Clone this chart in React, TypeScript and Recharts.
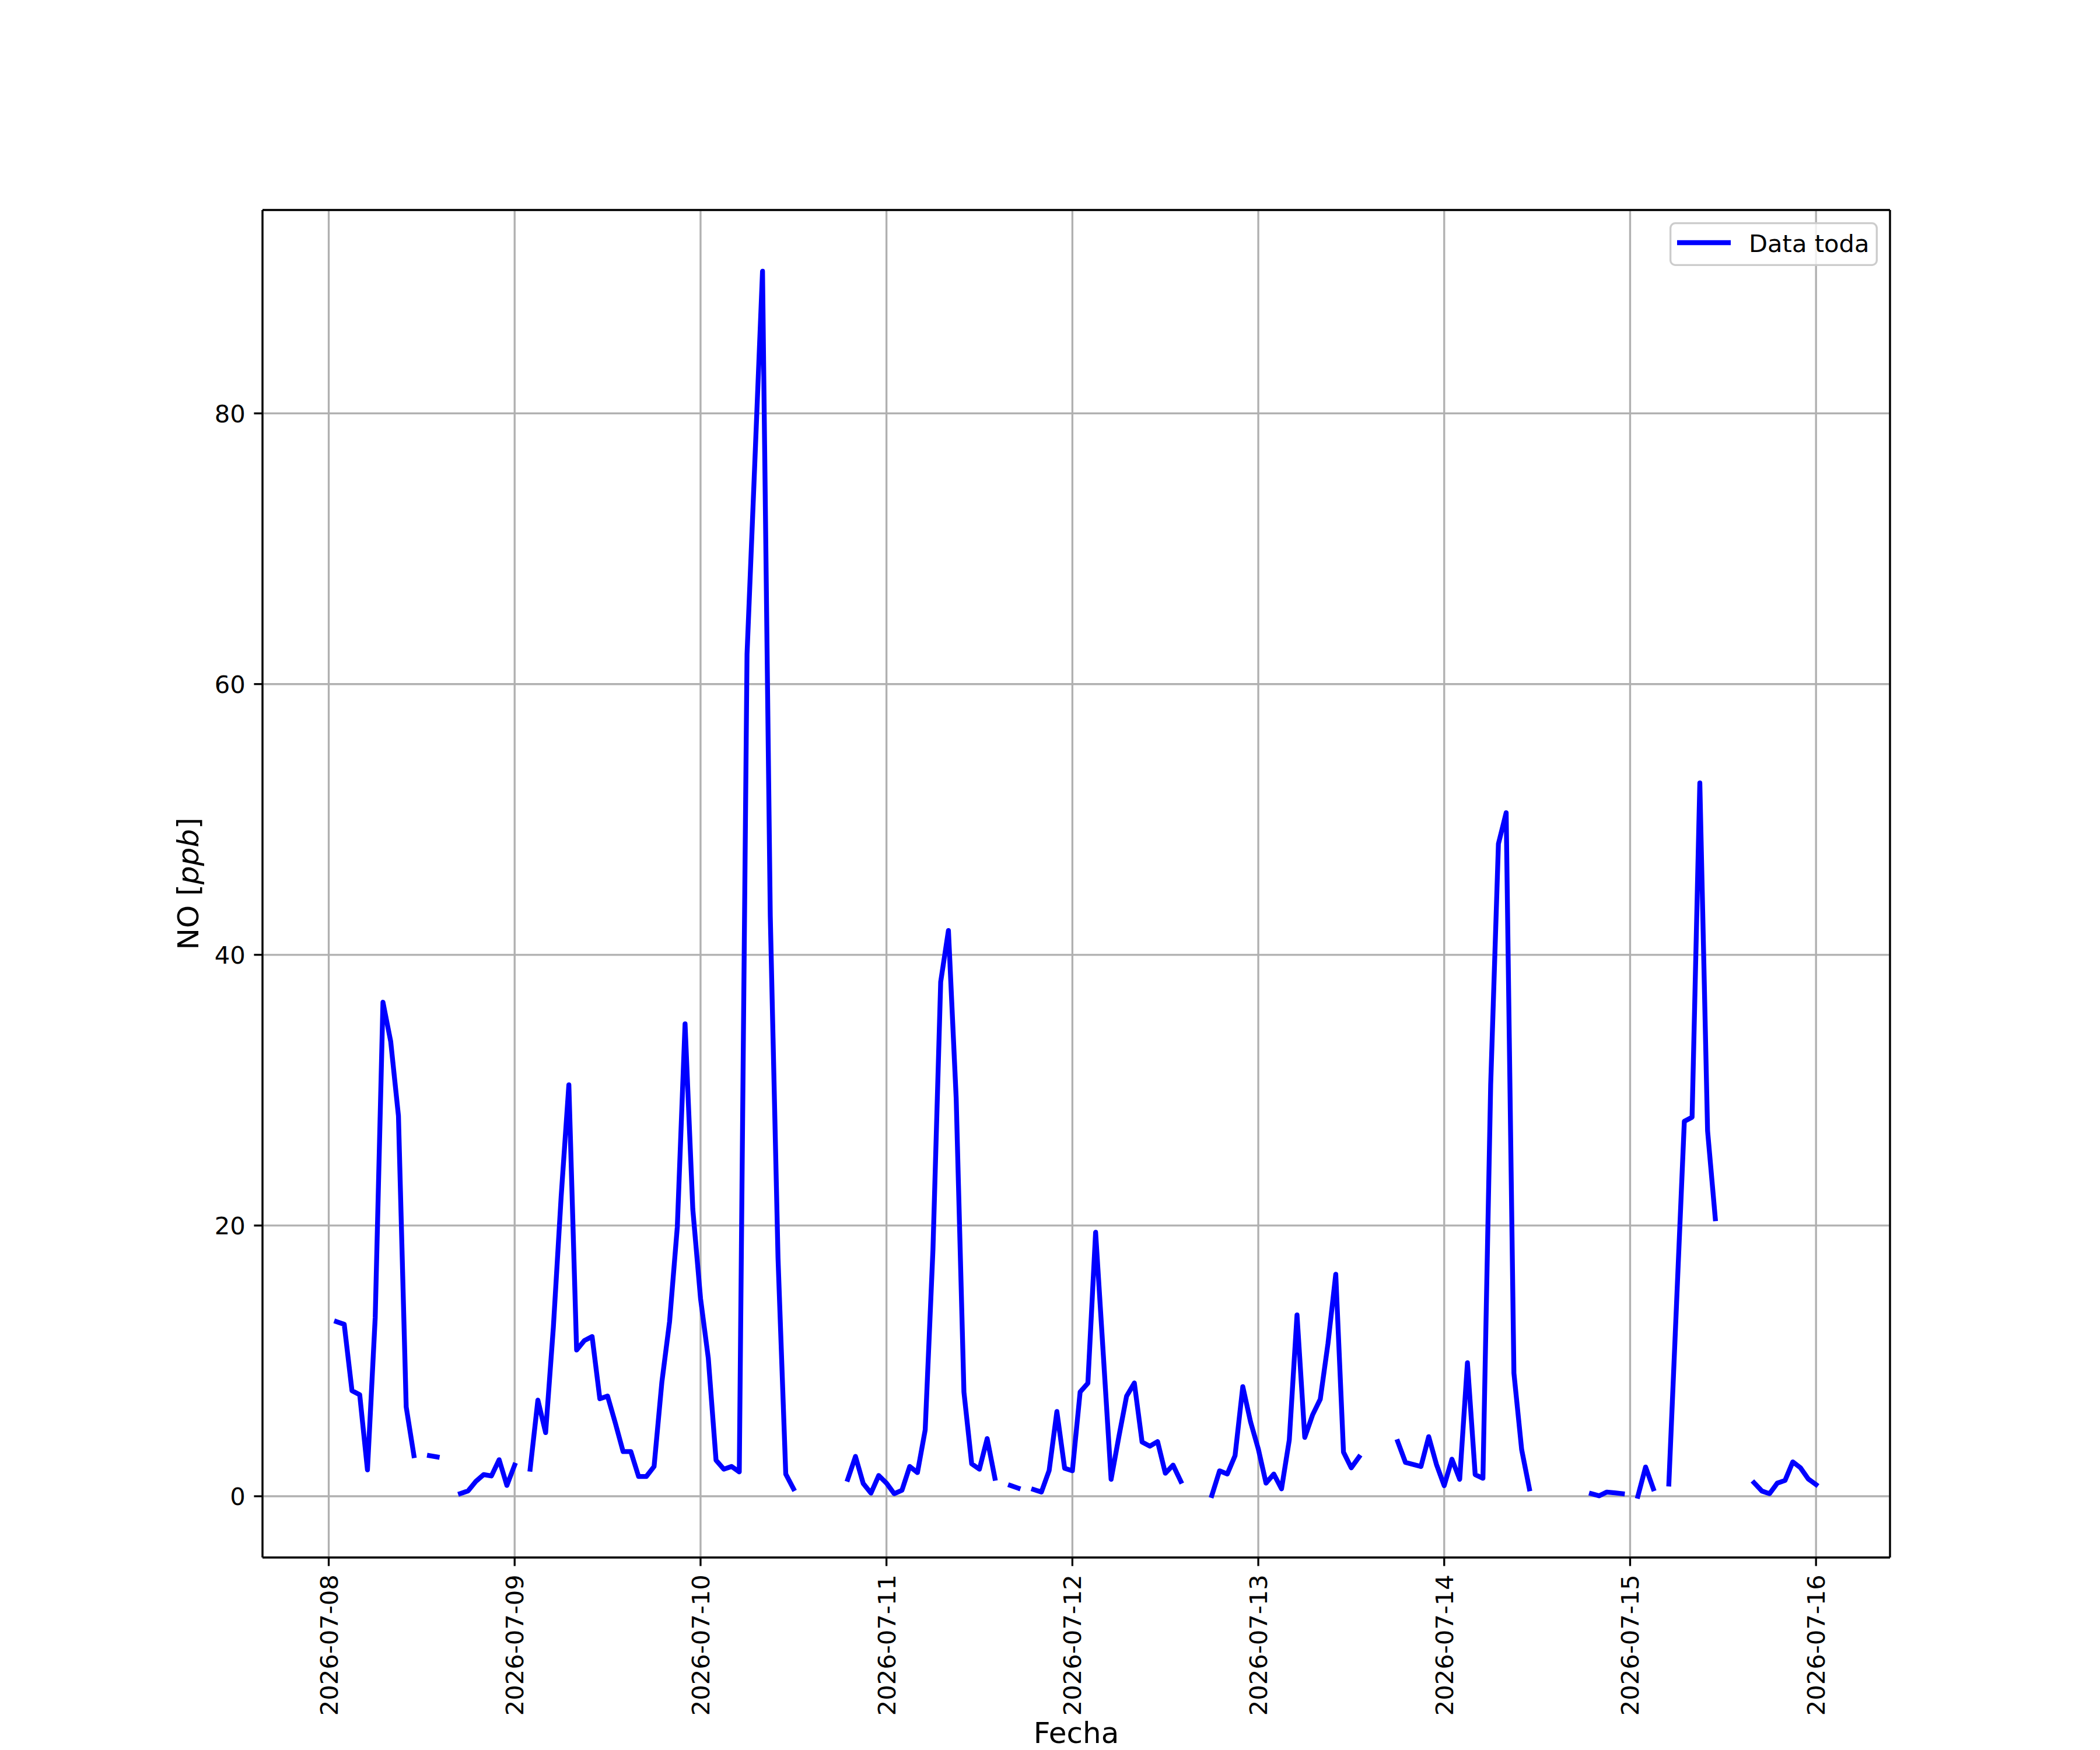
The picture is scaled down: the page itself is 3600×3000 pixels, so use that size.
import {
  CartesianGrid,
  Legend,
  Line,
  LineChart,
  ReferenceLine,
  XAxis,
  YAxis,
} from 'recharts';

// Fechas (una marca por día)
const fechas = [
  '2026-07-08',
  '2026-07-09',
  '2026-07-10',
  '2026-07-11',
  '2026-07-12',
  '2026-07-13',
  '2026-07-14',
  '2026-07-15',
  '2026-07-16',
];

// NO [ppb] por hora (0..23), null = sin dato
const no0708 = [null, 12.9, 12.7, 7.8, 7.5, 1.95, 13.2, 36.5, 33.6, 28.1, 6.6, 3.0, null, 3.0, 2.9, null, null, 0.2, 0.4, 1.1, 1.6, 1.5, 2.7, 0.8];
const no0709 = [2.3, null, 2.0, 7.1, 4.7, 12.5, 22.1, 30.4, 10.8, 11.5, 11.8, 7.2, 7.4, 5.4, 3.3, 3.3, 1.46, 1.46, 2.2, 8.4, 12.9, 19.9, 34.9, 21.2];
const no0710 = [14.6, 10.2, 2.66, 2.0, 2.2, 1.8, 62.2, 76.3, 90.5, 42.9, 17.6, 1.64, 0.55, null, null, null, null, null, null, 1.25, 2.94, 0.94, 0.23, 1.53];
const no0711 = [0.97, 0.19, 0.44, 2.2, 1.75, 4.9, 18.2, 38.0, 41.8, 29.4, 7.7, 2.4, 2.0, 4.26, 1.33, null, 0.8, 0.6, null, 0.5, 0.31, 1.9, 6.26, 2.07];
const no0712 = [1.88, 7.7, 8.35, 19.5, 10.4, 1.25, 4.4, 7.4, 8.37, 4.0, 3.7, 4.04, 1.7, 2.3, 1.1, null, null, null, 0.05, 1.88, 1.64, 3.0, 8.1, 5.5];
const no0713 = [3.5, 0.97, 1.64, 0.55, 4.15, 13.4, 4.35, 6.0, 7.17, 11.3, 16.4, 3.26, 2.1, 2.9, null, null, null, null, 4.04, 2.5, 2.35, 2.2, 4.4, 2.35];
const no0714 = [0.78, 2.74, 1.25, 9.86, 1.6, 1.33, 30.4, 48.2, 50.5, 9.1, 3.44, 0.55, null, null, null, null, null, null, null, 0.19, 0.03, 0.31, 0.25, 0.19];
const no0715 = [null, 0.0, 2.16, 0.55, null, 0.9, 14.3, 27.7, 28.0, 52.7, 27.0, 20.5, null, null, null, null, 1.0, 0.39, 0.19, 0.97, 1.17, 2.54, 2.1, 1.28];
const no0716 = [0.86];

const yTicks = [0, 20, 40, 60, 80];

const porDia = [no0708, no0709, no0710, no0711, no0712, no0713, no0714, no0715, no0716];

// t = horas desde 2026-07-08 00:00
const data = porDia.flatMap((dia, d) =>
  dia.map((v, h) => ({ t: d * 24 + h, no: v })),
);
const xTicks = fechas.map((_, i) => i * 24);

// autoescala tipo matplotlib (margen 5%)
const validos = data.filter((p) => p.no !== null);
const tMin = Math.min(...validos.map((p) => p.t));
const tMax = Math.max(...validos.map((p) => p.t));
const vMin = Math.min(...validos.map((p) => p.no as number));
const vMax = Math.max(...validos.map((p) => p.no as number));
const xDomain = [tMin - 0.05 * (tMax - tMin), tMax + 0.05 * (tMax - tMin)];
const yDomain = [vMin - 0.05 * (vMax - vMin), vMax + 0.05 * (vMax - vMin)];

const FONT = 'DejaVu Sans';
const TICK_FS = 41.67;
const LABEL_FS = 50;
const LW = 3.33;
const SERIES_LW = 8.33;

function XTick({ x, y, payload }: any) {
  return (
    <text
      x={0}
      y={0}
      dy="0.36em"
      transform={`translate(${x},${y}) rotate(-90)`}
      textAnchor="end"
      fontFamily={FONT}
      fontSize={TICK_FS}
      fill="#000"
    >
      {fechas[Math.round(payload.value / 24)]}
    </text>
  );
}

function YTick({ x, y, payload }: any) {
  return (
    <text x={x} y={y} dy="0.36em" textAnchor="end" fontFamily={FONT} fontSize={TICK_FS} fill="#000">
      {payload.value}
    </text>
  );
}

function YLabel({ viewBox }: any) {
  const cy = viewBox.y + viewBox.height / 2;
  return (
    <text
      x={0}
      y={0}
      transform={`translate(340,${cy}) rotate(-90)`}
      textAnchor="middle"
      fontFamily={FONT}
      fontSize={LABEL_FS}
      fill="#000"
    >
      NO [<tspan fontStyle="italic">ppb</tspan>]
    </text>
  );
}

function XLabel({ viewBox }: any) {
  const cx = viewBox.x + viewBox.width / 2;
  return (
    <text x={cx} y={2988} textAnchor="middle" fontFamily={FONT} fontSize={LABEL_FS} fill="#000">
      Fecha
    </text>
  );
}

function LegendBox() {
  return (
    <svg width={357} height={75} style={{ display: 'block' }}>
      <rect
        x={1.65}
        y={1.65}
        width={353.7}
        height={71.7}
        rx={8.3}
        fill="rgba(255,255,255,0.8)"
        stroke="#cccccc"
        strokeWidth={LW}
      />
      <line x1={13} y1={35} x2={105} y2={35} stroke="#0000ff" strokeWidth={SERIES_LW} />
      <text x={136} y={51} fontFamily={FONT} fontSize={TICK_FS} fill="#000">
        Data toda
      </text>
    </svg>
  );
}

export default function App() {
  return (
    <div style={{ position: 'absolute', left: 0, top: 0, width: 3600, height: 3000, background: '#fff' }}>
      <LineChart
        width={3600}
        height={3000}
        data={data}
        margin={{ top: 360, right: 360, bottom: 0, left: 0 }}
      >
        <CartesianGrid stroke="#b0b0b0" strokeWidth={LW} />
        <XAxis
          dataKey="t"
          type="number"
          domain={xDomain}
          allowDataOverflow
          ticks={xTicks}
          interval={0}
          height={330}
          tick={<XTick />}
          tickSize={14.6}
          tickMargin={14.6}
          tickLine={{ stroke: '#000', strokeWidth: LW }}
          axisLine={{ stroke: '#000', strokeWidth: LW }}
          label={<XLabel />}
        />
        <YAxis
          type="number"
          domain={yDomain}
          allowDataOverflow
          ticks={yTicks}
          interval={0}
          width={450}
          tick={<YTick />}
          tickSize={14.6}
          tickMargin={14.6}
          tickLine={{ stroke: '#000', strokeWidth: LW }}
          axisLine={{ stroke: '#000', strokeWidth: LW }}
          label={<YLabel />}
        />
        <ReferenceLine y={yDomain[1]} stroke="#000" strokeWidth={LW} />
        <ReferenceLine x={xDomain[1]} stroke="#000" strokeWidth={LW} />
        <Line
          type="linear"
          dataKey="no"
          name="Data toda"
          stroke="#0000ff"
          strokeWidth={SERIES_LW}
          strokeLinejoin="round"
          strokeLinecap="square"
          dot={false}
          activeDot={false}
          isAnimationActive={false}
        />
        <Legend
          layout="vertical"
          align="center"
          verticalAlign="middle"
          content={<LegendBox />}
          wrapperStyle={{ position: 'absolute', left: 2862, top: 381, width: 357, height: 75 }}
        />
      </LineChart>
    </div>
  );
}
